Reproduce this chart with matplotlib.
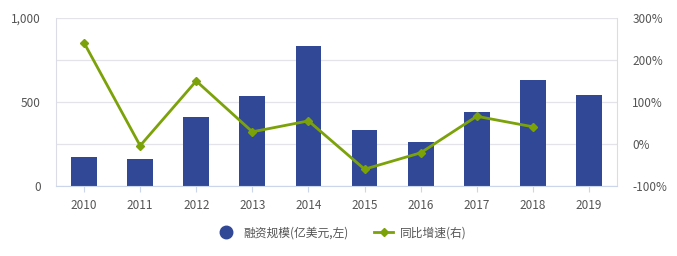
import matplotlib
matplotlib.use('Agg')
import matplotlib.pyplot as plt
from matplotlib.ticker import FuncFormatter
from matplotlib.lines import Line2D

plt.rcParams['font.family'] = ['Noto Sans CJK SC', 'DejaVu Sans']

years = ['2010', '2011', '2012', '2013', '2014', '2015', '2016', '2017', '2018', '2019']
scale = [173, 161, 411, 536, 833, 333, 262, 440, 631, 542]  # 亿美元
growth = [241, -4, 150, 29, 55, -60, -21, 66, 41]  # %, 2010-2018

bar_color = '#314896'
line_color = '#7ca20a'
text_color = '#555555'
grid_color = '#e3e3e8'

fig = plt.figure(figsize=(6.77, 2.56), dpi=100)
ax = fig.add_axes([0.0827, 0.2734, 0.8287, 0.6563])
x = list(range(len(years)))
ax.bar(x, scale, width=0.46, color=bar_color, zorder=2, label='融资规模(亿美元,左)')
ax.set_xlim(-0.5, len(years) - 0.5)
ax.set_ylim(0, 1000)
ax.set_yticks([0, 250, 500, 750, 1000])
ax.set_yticklabels(['0', '', '500', '', '1,000'])
ax.grid(axis='y', color=grid_color, linewidth=0.9, zorder=0)
ax.set_xticks(x)
ax.set_xticklabels(years)
ax.tick_params(axis='x', length=4, color='#ccd6eb', labelcolor=text_color, labelsize=8.5, pad=5)
ax.tick_params(axis='y', length=0, labelcolor=text_color, labelsize=8.5, pad=11)
ax.spines['top'].set_visible(False)
ax.spines['bottom'].set_color('#ccd6eb')
ax.spines['left'].set_color('#dcdce6')
ax.spines['right'].set_color('#dcdce6')

ax2 = ax.twinx()
ax2.plot(x[:len(growth)], growth, color=line_color, linewidth=2, marker='D',
         markersize=4, zorder=3, label='同比增速(右)')
ax2.set_ylim(-100, 300)
ax2.set_yticks([-100, 0, 100, 200, 300])
ax2.yaxis.set_major_formatter(FuncFormatter(lambda v, p: '%d%%' % v))
ax2.tick_params(axis='y', length=0, labelcolor=text_color, labelsize=8.5, pad=11)
for s in ax2.spines.values():
    s.set_visible(False)

l1 = ax.get_legend_handles_labels()[1]
h2, l2 = ax2.get_legend_handles_labels()
dot = Line2D([], [], marker='o', linestyle='none', markersize=9, color=bar_color)
fig.legend([dot] + h2, l1 + l2, loc='center', bbox_to_anchor=(0.505, 0.09), ncol=2,
           frameon=False, fontsize=8.5, labelcolor=text_color, handlelength=1.6,
           columnspacing=2.2, handletextpad=0.6)

plt.savefig('out.png', dpi=100)
